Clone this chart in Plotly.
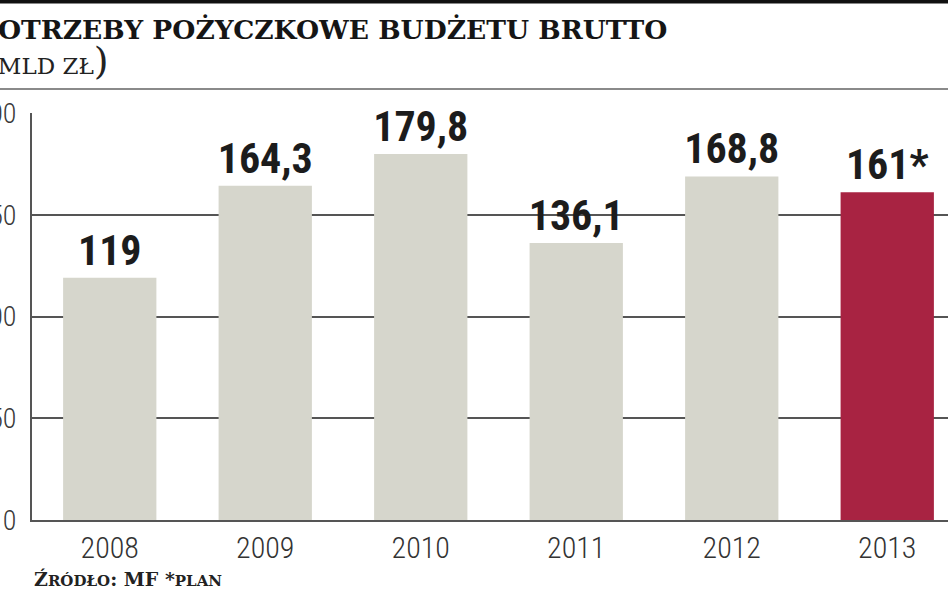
import plotly.graph_objects as go

# ---- data ----
years = ["2008", "2009", "2010", "2011", "2012", "2013"]
values = [119, 164.3, 179.8, 136.1, 168.8, 161]
value_labels = ["119", "164,3", "179,8", "136,1", "168,8", "161*"]
plan_year = "2013"
y_ticks = [0, 50, 100, 150, 200]
y_tick_labels = ["0", "50", "100", "150", "200"]

title_text = "POTRZEBY POŻYCZKOWE BUDŻETU BRUTTO"
unit_text = "MLD ZŁ"
source_big1, source_small1, source_mid, source_small2 = "Ź", "RÓDŁO", ": MF *", "PLAN"

# ---- styles / layout ----
W_PX, H_PX = 948, 593
L, R, T, B = 32, 0, 113, 73
PW, PH = W_PX - L - R, H_PX - T - B
GRAY = "#d6d6cc"
RED = "#a82342"
GRID = "#555555"
BAND = 155.5  # px per category
NUM_FONT = "Roboto Condensed, Liberation Sans Narrow, Liberation Sans, Arial"


def px_x(px):
    return (px - L) / PW


def px_y(py):
    return (H_PX - B - py) / PH


colors = [RED if y == plan_year else GRAY for y in years]

fig = go.Figure()
fig.add_trace(go.Bar(
    x=years, y=values, marker=dict(color=colors, line=dict(width=0)),
    width=0.6, text=value_labels, textposition="outside",
    textfont=dict(family=NUM_FONT, size=42, color="#1c1c1c", weight="bold"),
    constraintext="none", cliponaxis=False, hoverinfo="skip",
))

fig.update_layout(
    width=W_PX, height=H_PX,
    margin=dict(l=L, r=R, t=T, b=B, pad=0),
    paper_bgcolor="white", plot_bgcolor="white",
    showlegend=False, bargap=0.4,
    xaxis=dict(type="category", range=[-0.5, -0.5 + PW / BAND],
               showline=True, linecolor=GRID, linewidth=2,
               showgrid=False, ticks="outside", ticklen=0,
               ticklabelstandoff=0,
               tickfont=dict(family=NUM_FONT, size=30, color="#333333", weight=300),
               fixedrange=True, automargin=False),
    yaxis=dict(range=[0, 200], tickvals=y_ticks, ticktext=y_tick_labels,
               showline=True, linecolor=GRID, linewidth=2,
               showgrid=True, gridcolor=GRID, gridwidth=2,
               zeroline=False, ticks="outside", ticklen=0,
               ticklabelstandoff=8,
               tickfont=dict(family=NUM_FONT, size=28, color="#3a3a3a", weight=300),
               fixedrange=True, automargin=False),
)

# top black band and separator line
fig.add_shape(type="rect", xref="paper", yref="paper",
              x0=px_x(0), x1=px_x(W_PX), y0=px_y(3.5), y1=px_y(-2),
              fillcolor="#111111", line=dict(width=0), layer="above")
fig.add_shape(type="line", xref="paper", yref="paper",
              x0=px_x(0), x1=px_x(W_PX), y0=px_y(89), y1=px_y(89),
              line=dict(color="#8a8a8a", width=2))

# title
fig.add_annotation(xref="paper", yref="paper", x=px_x(669), y=px_y(30),
                   xanchor="right", yanchor="middle", showarrow=False,
                   text="<b>" + title_text + "</b>",
                   font=dict(family="DejaVu Serif", size=26.5, color="#151515"))
fig.add_annotation(xref="paper", yref="paper", x=px_x(111), y=px_y(61),
                   xanchor="right", yanchor="middle", showarrow=False,
                   text='<span style="font-size:38px">(</span>' + unit_text +
                        '<span style="font-size:38px">)</span>',
                   font=dict(family="DejaVu Serif", size=23, color="#222222"))

# source
fig.add_annotation(xref="paper", yref="paper", x=px_x(32), y=px_y(579),
                   xanchor="left", yanchor="middle", showarrow=False,
                   text="<b>" + source_big1 + '<span style="font-size:15px">' + source_small1 +
                        "</span>" + source_mid + '<span style="font-size:15px">' +
                        source_small2 + "</span></b>",
                   font=dict(family="DejaVu Serif", size=19, color="#222222"))

fig.write_html("out.html", config={"displayModeBar": False},
               post_script="document.body.style.margin='0';document.body.style.overflow='hidden';")
